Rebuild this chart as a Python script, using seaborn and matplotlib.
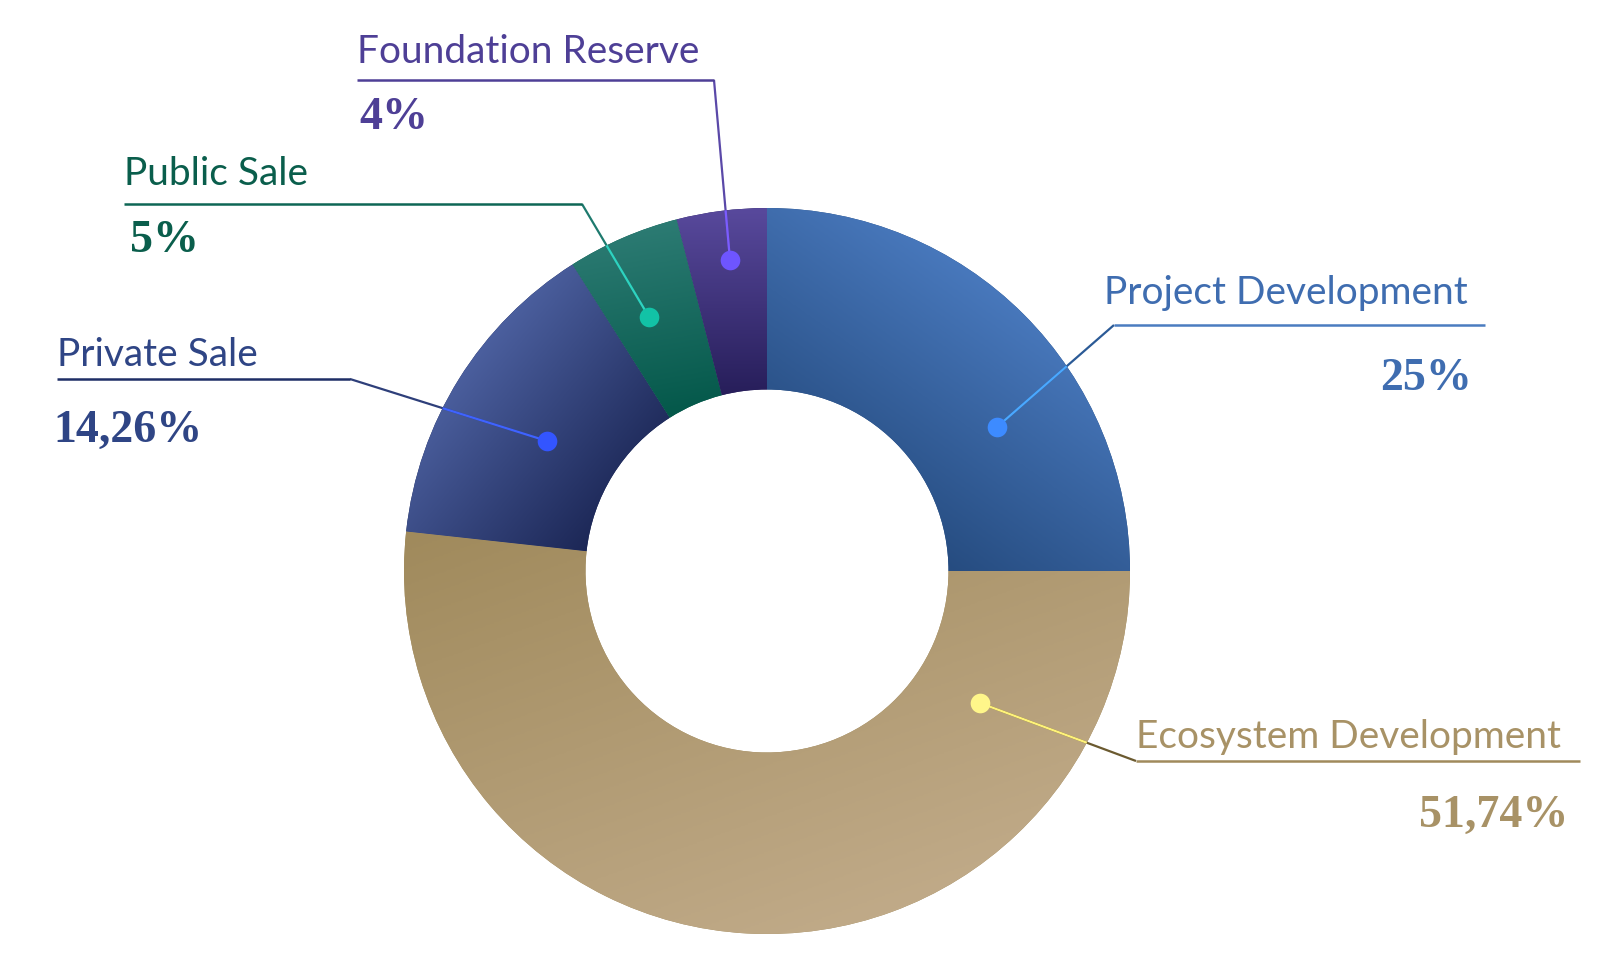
import numpy as np
import seaborn as sns
import matplotlib.pyplot as plt


# data
labels = ["Project Development", "Ecosystem Development", "Private Sale", "Public Sale", "Foundation Reserve"]
shares = [25, 51.74, 14.26, 5, 4]
pct_labels = ["25%", "51,74%", "14,26%", "5%", "4%"]

# colours
dark_colors = ["#264c80", "#a08a5c", "#1c2756", "#04584a", "#271e5a"]
light_colors = ["#4878bc", "#c0aa88", "#4b5f9e", "#2c7b73", "#58499c"]
grad_dirs = [55, -70, 140, 100, 90]
text_colors = ["#3f6db0", "#a89266", "#2f4585", "#0a5e4c", "#4e3f96"]
dot_colors = ["#3d8bff", "#fff68a", "#3355ff", "#12c2a6", "#6e55ff"]
line_in = ["#4aa8ff", "#fff37a", "#3f63ff", "#2ed3c0", "#7b5cff"]
line_out = ["#2b5a96", "#6b5a30", "#2e3f7a", "#1e7a6e", "#5a48a8"]
underline_colors = ["#4a7cc0", "#a08a5c", "#1e2e66", "#0e6655", "#4e3f96"]

W, H = 1600, 959
CX, CY, R = 767, 571, 363


def px(x, y):
    # figure pixels (from top left) -> data units
    return (x - CX) / R, (CY - y) / R


# annotation layout in pixels: dot, elbow, end of underline, label pos, pct pos, alignment
layout = [
    dict(dot=(997, 427), elbow=(1114, 325), end=1485, lab=(1104, 304), pct=(1472, 390), ha="right"),
    dict(dot=(980, 703), elbow=(1136, 761), end=1580, lab=(1136, 748), pct=(1568, 827), ha="right"),
    dict(dot=(547, 441), elbow=(350, 379), end=57, lab=(57, 366), pct=(53, 442), ha="left"),
    dict(dot=(649, 317), elbow=(582, 204), end=124, lab=(124, 185), pct=(130, 252), ha="left"),
    dict(dot=(730, 260), elbow=(714, 80), end=357, lab=(357, 63), pct=(359, 129), ha="left"),
]

sns.set_theme(style="white")
plt.rcParams["font.family"] = ["Lato", "DejaVu Sans"]

fig = plt.figure(figsize=(W / 100, H / 100), dpi=100)
ax = fig.add_axes([0, 0, 1, 1])

wedges, _ = ax.pie(shares, startangle=90, counterclock=False, radius=1,
                   colors=dark_colors, wedgeprops=dict(width=0.5, linewidth=0))

# gradient fill clipped to each wedge
n = 500
xs = np.linspace(-1, 1, n)
gx, gy = np.meshgrid(xs, xs)
rr = np.hypot(gx, gy)
ang = np.degrees(np.arctan2(gy, gx)) % 360
for i, w in enumerate(wedges):
    t1, t2 = w.theta1 % 360, w.theta2 % 360
    if t1 < t2:
        inside = (ang >= t1) & (ang <= t2)
    else:
        inside = (ang >= t1) | (ang <= t2)
    inside &= (rr >= 0.5) & (rr <= 1)
    a = np.radians(grad_dirs[i])
    proj = gx * np.cos(a) + gy * np.sin(a)
    lo, hi = proj[inside].min(), proj[inside].max()
    val = np.clip((proj - lo) / (hi - lo), 0, 1)
    cmap = sns.blend_palette([dark_colors[i], light_colors[i]], as_cmap=True)
    im = ax.imshow(val, cmap=cmap, extent=(-1, 1, -1, 1), origin="lower",
                   interpolation="bilinear", zorder=2)
    im.set_clip_path(w)

# pie() and imshow() reset the limits, so set them afterwards
ax.set_xlim(-CX / R, (W - CX) / R)
ax.set_ylim(-(H - CY) / R, CY / R)
ax.set_aspect("equal")
ax.axis("off")

# leader lines, dots and text
for i, L in enumerate(layout):
    dx, dy = px(*L["dot"])
    ex, ey = px(*L["elbow"])
    endx, _ = px(L["end"], L["elbow"][1])
    ax.plot([dx, ex], [dy, ey], color=line_out[i], lw=1.6, zorder=3, solid_capstyle="butt")
    ax.plot([ex, endx], [ey, ey], color=underline_colors[i], lw=1.8, zorder=3, solid_capstyle="butt")
    # part of the leader inside the ring is lighter
    vx, vy = ex - dx, ey - dy
    qa = vx * vx + vy * vy
    qb = 2 * (dx * vx + dy * vy)
    qc = dx * dx + dy * dy - 1
    t = (-qb + np.sqrt(qb * qb - 4 * qa * qc)) / (2 * qa)
    ax.plot([dx, dx + t * vx], [dy, dy + t * vy], color=line_in[i], lw=1.6, zorder=4,
            solid_capstyle="butt")
    ax.scatter([dx], [dy], s=200, color=dot_colors[i], zorder=5, linewidths=0)

    lx, ly = px(*L["lab"])
    ax.text(lx, ly, labels[i], color=text_colors[i], fontsize=28, ha="left",
            va="baseline", family=["Lato", "DejaVu Sans"])
    qx, qy = px(*L["pct"])
    ax.text(qx, qy, pct_labels[i], color=text_colors[i], fontsize=33, ha=L["ha"],
            va="baseline", fontweight="bold", family=["Liberation Serif", "DejaVu Serif"])

fig.savefig("out.png", dpi=100, facecolor="white")
